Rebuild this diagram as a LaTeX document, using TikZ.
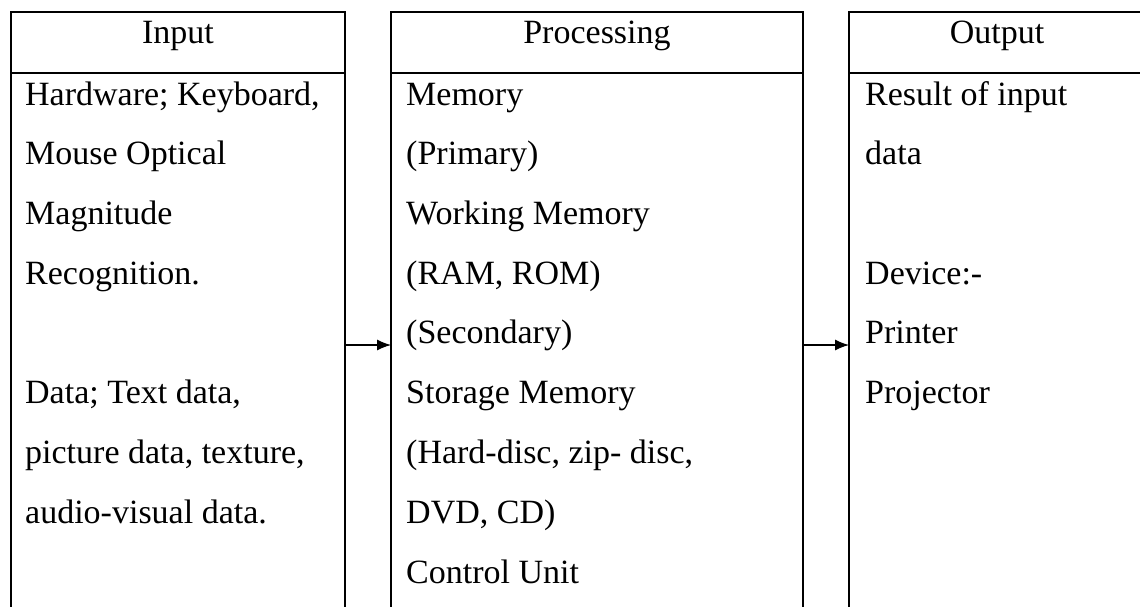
\documentclass[tikz,border=0pt]{standalone}
\usepackage{fontspec}
\setmainfont{Liberation Serif}
\usetikzlibrary{arrows.meta}
\begin{document}
\begin{tikzpicture}[x=1pt,y=-1pt,
  boxline/.style={line width=1.2pt,black},
  txt/.style={anchor=base west,inner sep=0pt,font=\fontsize{34}{40}\selectfont},
  head/.style={anchor=base,inner sep=0pt,font=\fontsize{34}{40}\selectfont},
  flow/.style={line width=1.2pt,-{Latex[length=14pt,width=11pt]}}]
\useasboundingbox (0,0) rectangle (1140,606);
% boxes
\draw[boxline] (11,610) -- (11,12) -- (345,12) -- (345,610);
\draw[boxline] (11,73) -- (345,73);
\draw[boxline] (391,610) -- (391,12) -- (803,12) -- (803,610);
\draw[boxline] (391,73) -- (803,73);
\draw[boxline] (849,610) -- (849,12) -- (1145,12);
\draw[boxline] (849,73) -- (1145,73);
% headers
\node[head] (hin) at (178,43) {Input};
\node[head] (hpr) at (597,43) {Processing};
\node[head] (hout) at (997,43) {Output};
% input text
\node[txt] (i1) at (25,105) {Hardware; Keyboard,};
\node[txt] (i2) at (25,164) {Mouse Optical};
\node[txt] (i3) at (25,224) {Magnitude};
\node[txt] (i4) at (25,284) {Recognition.};
\node[txt] (i6) at (25,403) {Data; Text data,};
\node[txt] (i7) at (25,463) {picture data, texture,};
\node[txt] (i8) at (25,523) {audio-visual data.};
% processing text
\node[txt] (p1) at (406,105) {Memory};
\node[txt] (p2) at (406,164) {(Primary)};
\node[txt] (p3) at (406,224) {Working Memory};
\node[txt] (p4) at (406,284) {(RAM, ROM)};
\node[txt] (p5) at (406,343) {(Secondary)};
\node[txt] (p6) at (406,403) {Storage Memory};
\node[txt] (p7) at (406,463) {(Hard-disc, zip- disc,};
\node[txt] (p8) at (406,523) {DVD, CD)};
\node[txt] (p9) at (406,583) {Control Unit};
% output text
\node[txt] (o1) at (865,105) {Result of input};
\node[txt] (o2) at (865,164) {data};
\node[txt] (o4) at (865,284) {Device:-};
\node[txt] (o5) at (865,343) {Printer};
\node[txt] (o6) at (865,403) {Projector};
% arrows
\coordinate (inR) at (345,345);
\coordinate (prL) at (391,345);
\coordinate (prR) at (803,345);
\coordinate (outL) at (849,345);
\draw[flow] (inR) -- (prL);
\draw[flow] (prR) -- (outL);
\end{tikzpicture}
\end{document}
